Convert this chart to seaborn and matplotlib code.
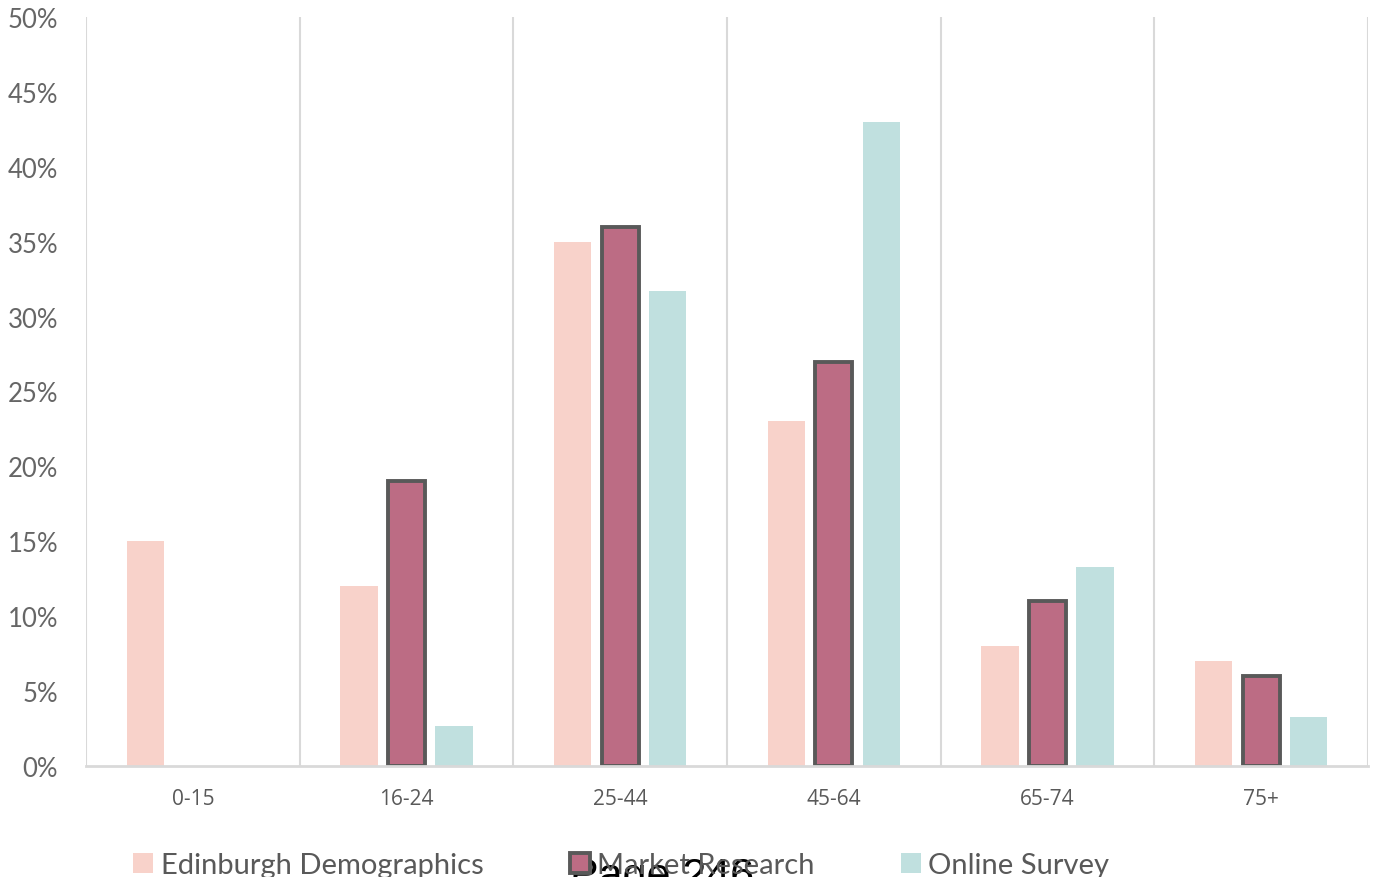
import matplotlib
matplotlib.use("Agg")
import matplotlib.pyplot as plt
from matplotlib.ticker import PercentFormatter, MultipleLocator
from matplotlib.patches import Patch
import seaborn as sns
import pandas as pd

# Age bands and share of respondents (%) per source
age_bands = ["0-15", "16-24", "25-44", "45-64", "65-74", "75+"]
edinburgh_demographics = [15, 12, 35, 23, 8, 7]
market_research = [0, 19, 36, 27, 11, 6]
online_survey = [0, 2.7, 31.7, 43, 13.3, 3.3]

series_names = ["Edinburgh Demographics", "Market Research", "Online Survey"]
series_colors = ["#F8D2CA", "#BC6C84", "#C0E0DF"]

df = pd.DataFrame({
    "age": age_bands * 3,
    "share": edinburgh_demographics + market_research + online_survey,
    "source": [s for s in series_names for _ in age_bands],
})

sns.set_theme(style="white")
plt.rcParams["font.family"] = ["Lato", "DejaVu Sans"]

fig = plt.figure(figsize=(13.79, 8.78), dpi=100)
ax = fig.add_axes([86 / 1379, 1 - 767 / 878, (1368 - 86) / 1379, (767 - 18) / 878])

sns.barplot(data=df, x="age", y="share", hue="source", order=age_bands,
            hue_order=series_names, palette=series_colors, width=0.667,
            gap=0.22, saturation=1, errorbar=None, legend=False, ax=ax)

# Outline the market research bars
for bar, val in zip(ax.containers[1], market_research):
    if val > 0:
        bar.set_edgecolor("#595959")
        bar.set_linewidth(2.8)
    else:
        bar.set_linewidth(0)
for idx in (0, 2):
    for bar in ax.containers[idx]:
        bar.set_linewidth(0)

ax.set_xlim(-0.5, len(age_bands) - 0.5)
ax.set_ylim(0, 50)
ax.yaxis.set_major_locator(MultipleLocator(5))
ax.yaxis.set_major_formatter(PercentFormatter(xmax=100, decimals=0))

# Category separators
for b in range(len(age_bands) + 1):
    ax.axvline(b - 0.5, color="#D9D9D9", lw=1.5, zorder=0)

for side in ("top", "left", "right"):
    ax.spines[side].set_visible(False)
ax.spines["bottom"].set_color("#D9D9D9")
ax.spines["bottom"].set_linewidth(2)

ax.set_xlabel("")
ax.set_ylabel("")
ax.tick_params(axis="y", length=0, pad=20, labelsize=18.5, labelcolor="#666666")
ax.tick_params(axis="x", length=0, pad=16, labelcolor="#595959")
for lbl in ax.get_xticklabels():
    lbl.set_fontfamily(["Open Sans", "DejaVu Sans"])
    lbl.set_fontsize(15)

handles = [
    Patch(facecolor=series_colors[0], edgecolor="none"),
    Patch(facecolor=series_colors[1], edgecolor="#595959", linewidth=2.8),
    Patch(facecolor=series_colors[2], edgecolor="none"),
]
leg = fig.legend(handles, series_names, loc="center left",
                 bbox_to_anchor=(133 / 1379, 1 - 866 / 878), ncol=3,
                 frameon=False, fontsize=21, handlelength=0.7,
                 handleheight=0.7, handletextpad=0.25, columnspacing=2.95,
                 borderaxespad=0, borderpad=0)
for t in leg.get_texts():
    t.set_color("#595959")

fig.text(570 / 1379, 1 - 888 / 878, "Page 246", fontsize=31,
         family=["Liberation Sans", "DejaVu Sans"], color="black",
         ha="left", va="baseline")

fig.savefig("out.png", dpi=100)
